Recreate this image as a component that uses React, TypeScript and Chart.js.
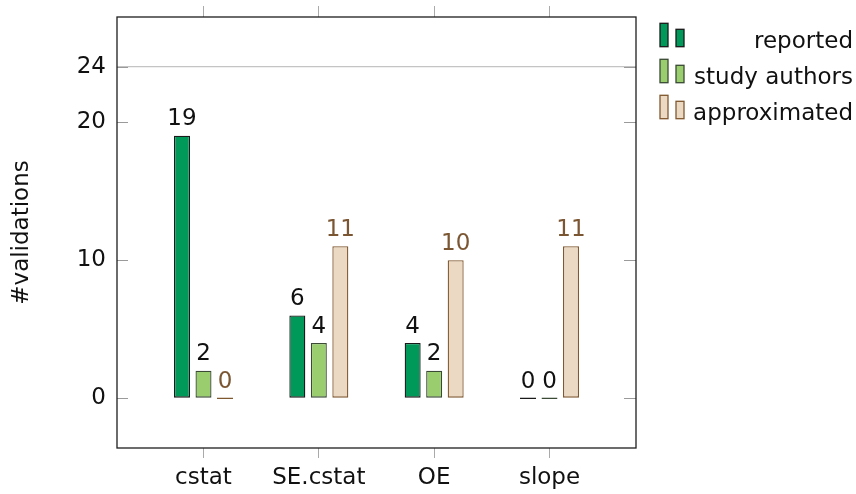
import React, { useEffect, useRef } from "react";
import { Chart, registerables } from "chart.js";

Chart.register(...registerables);

const categories = ["cstat", "SE.cstat", "OE", "slope"];
const seriesLabels = ["reported", "study authors", "approximated"];
const reported = [19, 6, 4, 0];
const studyAuthors = [2, 4, 2, 0];
const approximated = [0, 11, 10, 11];
const yTickValues = [0, 10, 20, 24];

const fills = ["#00995a", "#99cd6e", "#ecd9c3"];
const borders = ["#1a1a1a", "#3a4a35", "#80582f"];
const labelColors = ["#111111", "#111111", "#7b5633"];

const FONT = "'DejaVu Sans', sans-serif";

export default function App() {
  const ref = useRef<HTMLCanvasElement | null>(null);

  useEffect(() => {
    if (!ref.current) return;
    Chart.defaults.font.family = FONT;
    Chart.defaults.font.size = 23;
    Chart.defaults.color = "#111";

    const seriesValues = [reported, studyAuthors, approximated];

    const framePlugin = {
      id: "frame",
      afterDraw(chart: any) {
        const { ctx, chartArea } = chart;
        const y = chart.scales.y;
        ctx.save();
        ctx.strokeStyle = "#9a9a9a";
        ctx.lineWidth = 1;
        yTickValues.forEach((v) => {
          const py = Math.round(y.getPixelForValue(v)) + 0.5;
          ctx.beginPath();
          ctx.moveTo(chartArea.left, py);
          ctx.lineTo(chartArea.left + 11, py);
          ctx.moveTo(chartArea.right - 12, py);
          ctx.lineTo(chartArea.right, py);
          ctx.stroke();
        });
        ctx.strokeStyle = "#1e1e1e";
        ctx.lineWidth = 1.3;
        ctx.strokeRect(
          chartArea.left,
          chartArea.top,
          chartArea.right - chartArea.left,
          chartArea.bottom - chartArea.top
        );
        ctx.restore();
      },
    };

    const valueLabelPlugin = {
      id: "valueLabels",
      afterDatasetsDraw(chart: any) {
        const { ctx } = chart;
        const y = chart.scales.y;
        ctx.save();
        ctx.font = `23px ${FONT}`;
        ctx.textAlign = "center";
        ctx.textBaseline = "alphabetic";
        chart.data.datasets.forEach((ds: any, di: number) => {
          const meta = chart.getDatasetMeta(di);
          ctx.fillStyle = labelColors[di];
          meta.data.forEach((el: any, i: number) => {
            const v = ds.data[i].y;
            const top = Math.min(y.getPixelForValue(v), y.getPixelForValue(0));
            ctx.fillText(String(v), el.x, top - 10.5);
          });
        });
        ctx.restore();
      },
    };

    const legendPlugin = {
      id: "customLegend",
      afterDraw(chart: any) {
        const { ctx } = chart;
        ctx.save();
        ctx.font = `23px ${FONT}`;
        ctx.textAlign = "right";
        ctx.textBaseline = "alphabetic";
        chart.data.datasets.forEach((ds: any, di: number) => {
          const bottom = 46.7 + di * 36;
          ctx.fillStyle = fills[di];
          ctx.strokeStyle = borders[di];
          ctx.lineWidth = 1.3;
          ctx.fillRect(660, bottom - 23.4, 8, 23.4);
          ctx.strokeRect(660, bottom - 23.4, 8, 23.4);
          ctx.fillRect(676, bottom - 17.4, 8, 17.4);
          ctx.strokeRect(676, bottom - 17.4, 8, 17.4);
          ctx.fillStyle = "#111";
          ctx.fillText(ds.label, 853, bottom + 1.3);
        });
        ctx.restore();
      },
    };

    const catTicks = (scale: any) => {
      scale.ticks = categories.map((_, i) => ({ value: i }));
    };

    const chart = new Chart(ref.current, {
      type: "bar",
      data: {
        datasets: seriesLabels.map((label, di) => ({
          label,
          data: seriesValues[di].map((v, i) => ({ x: i, y: v })),
          backgroundColor: fills[di],
          borderColor: borders[di],
          borderWidth: 1.3,
          borderSkipped: false,
          minBarLength: 1.6,
          categoryPercentage: 0.5593,
          barPercentage: 0.744,
          xAxisID: "x",
          yAxisID: "y",
        })),
      },
      options: {
        animation: false,
        responsive: false,
        layout: { padding: { left: 0, right: 220, top: 0, bottom: 0 } },
        plugins: {
          legend: { display: false },
          tooltip: { enabled: false },
        },
        scales: {
          x: {
            type: "linear",
            position: "bottom",
            min: -0.75,
            max: 3.75,
            offset: false,
            afterBuildTicks: catTicks,
            afterFit: (s: any) => {
              s.height = 46;
              s.paddingLeft = 0;
              s.paddingRight = 0;
            },
            border: { display: false },
            grid: {
              offset: false,
              drawOnChartArea: false,
              drawTicks: true,
              tickLength: 10,
              color: "#aaaaaa",
              lineWidth: 1,
            },
            ticks: {
              padding: 6,
              maxRotation: 0,
              autoSkip: false,
              color: "#111",
              font: { size: 23, family: FONT },
              callback: (v: any) => categories[Math.round(Number(v))] ?? "",
            },
          },
          x2: {
            type: "linear",
            position: "top",
            min: -0.75,
            max: 3.75,
            offset: false,
            afterBuildTicks: catTicks,
            afterFit: (s: any) => {
              s.height = 17;
              s.paddingLeft = 0;
              s.paddingRight = 0;
            },
            border: { display: false },
            grid: {
              offset: false,
              drawOnChartArea: false,
              drawTicks: true,
              tickLength: 11,
              color: "#aaaaaa",
              lineWidth: 1,
            },
            ticks: { display: false },
          },
          y: {
            type: "linear",
            position: "left",
            min: -3.6,
            max: 27.6,
            afterBuildTicks: (scale: any) => {
              scale.ticks = yTickValues.map((v) => ({ value: v }));
            },
            afterFit: (s: any) => {
              s.width = 117;
              s.paddingTop = 0;
              s.paddingBottom = 0;
            },
            border: { display: false },
            grid: {
              drawTicks: false,
              color: (c: any) => (c.tick && c.tick.value === 24 ? "#c4c4c4" : "rgba(0,0,0,0)"),
              lineWidth: 1.2,
            },
            ticks: {
              padding: 11,
              color: "#111",
              font: { size: 23, family: FONT },
              callback: (v: any) => String(v),
            },
            title: {
              display: true,
              text: "#validations",
              color: "#111",
              font: { size: 23, family: FONT },
              padding: { top: 8, bottom: 0 },
            },
          },
        },
      },
      plugins: [framePlugin, valueLabelPlugin, legendPlugin],
    } as any);

    return () => chart.destroy();
  }, []);

  return (
    <div style={{ position: "fixed", left: 0, top: 0, width: 856, height: 494, background: "#fff" }}>
      <canvas ref={ref} width={856} height={494} style={{ display: "block" }} />
    </div>
  );
}
